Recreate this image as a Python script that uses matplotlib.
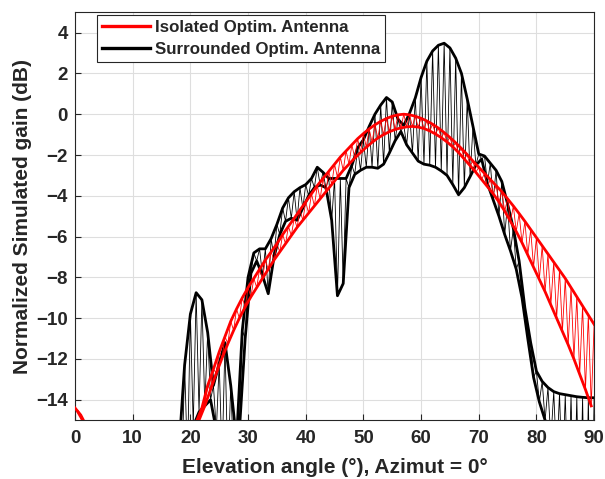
import numpy as np
import matplotlib
matplotlib.use("Agg")
import matplotlib.pyplot as plt
from matplotlib.lines import Line2D

plt.rcParams['font.family'] = ['Liberation Sans', 'DejaVu Sans']
plt.rcParams['font.weight'] = 'bold'

# the simulated pattern alternates between two branches:
# branch A on whole degrees, branch B on half degrees
theta_a = np.arange(0, 91)
theta_b = np.arange(0.5, 90, 1.0)

# isolated antenna (dB)
iso_a = [-14.4, -14.75, -15.3, -16.0, -16.8, -17.6, -18.5, -19.4, -20.2, -20.9,
         -21.4, -21.6, -21.4, -20.9, -20.2, -19.4, -18.6, -17.8, -17.0, -16.3,
         -15.7, -15.1, -14.4, -13.3, -12.5, -11.65, -10.9, -10.15, -9.55, -9.0,
         -8.5, -8.05, -7.6, -7.15, -6.75, -6.35, -5.9, -5.5, -5.1, -4.7,
         -4.3, -3.9, -3.5, -3.15, -2.8, -2.45, -2.1, -1.8, -1.5, -1.2,
         -0.95, -0.72, -0.52, -0.35, -0.21, -0.1, -0.03, 0.0, -0.03, -0.1,
         -0.2, -0.33, -0.49, -0.68, -0.9, -1.14, -1.4, -1.68, -1.98, -2.3,
         -2.6, -2.9, -3.2, -3.5, -3.8, -4.15, -4.5, -4.87, -5.25, -5.65,
         -6.05, -6.45, -6.85, -7.25, -7.65, -8.05, -8.5, -8.95, -9.4, -9.85,
         -10.3]
iso_b = [-14.6, -15.1, -15.8, -16.6, -17.4, -18.3, -19.2, -20.1, -20.9, -21.5,
         -21.8, -21.7, -21.3, -20.7, -20.0, -19.2, -18.4, -17.6, -16.9, -16.3,
         -15.7, -15.0, -14.3, -13.5, -12.7, -11.95, -11.25, -10.6, -10.0, -9.45,
         -8.95, -8.5, -8.05, -7.6, -7.15, -6.75, -6.35, -5.95, -5.55, -5.2,
         -4.85, -4.5, -4.15, -3.8, -3.45, -3.1, -2.75, -2.45, -2.15, -1.88,
         -1.62, -1.38, -1.17, -1.0, -0.86, -0.75, -0.67, -0.62, -0.6, -0.63,
         -0.7, -0.82, -0.97, -1.15, -1.36, -1.6, -1.88, -2.2, -2.52, -2.85,
         -3.2, -3.55, -3.9, -4.3, -4.75, -5.25, -5.75, -6.3, -6.9, -7.5,
         -8.1, -8.7, -9.35, -10.0, -10.65, -11.3, -12.0, -12.75, -13.5, -14.3]

# antenna surrounded by its neighbours (dB)
sur_a = [-26.0, -25.5, -25.0, -24.0, -23.0, -22.5, -22.0, -21.0, -20.0, -19.5,
         -19.5, -20.0, -21.0, -22.0, -22.5, -22.0, -20.5, -19.0, -16.5, -12.3,
         -9.8, -8.75, -9.1, -10.7, -13.3, -12.2, -11.2, -13.3, -16.0, -10.6,
         -8.0, -6.8, -6.6, -6.6, -6.1, -5.4, -4.6, -4.1, -3.8, -3.6,
         -3.45, -3.15, -2.6, -2.85, -3.15, -3.15, -3.15, -3.15, -2.5, -1.65,
         -1.25, -0.6, 0.0, 0.45, 0.82, 0.6, -0.25, -0.55, 0.05, 0.8,
         1.8, 2.6, 3.1, 3.38, 3.48, 3.25, 2.75, 2.0, 0.75, -0.6,
         -1.95, -2.05, -2.4, -2.75, -3.3, -4.4, -5.6, -7.2, -9.5, -11.2,
         -12.6, -13.1, -13.4, -13.6, -13.7, -13.75, -13.8, -13.85, -13.88, -13.9,
         -13.9]
sur_b = [-28.0, -27.5, -27.0, -26.0, -25.0, -24.5, -24.0, -23.0, -22.0, -21.5,
         -21.5, -22.0, -23.0, -24.0, -24.5, -24.0, -22.5, -20.5, -18.0, -17.0,
         -15.3, -14.6, -14.3, -14.0, -15.5, -17.0, -17.5, -17.0, -15.5, -11.0,
         -7.8, -7.2, -7.9, -8.8, -7.0, -5.9, -5.25, -5.1, -5.2, -4.6,
         -4.0, -3.6, -3.47, -3.6, -5.2, -8.9, -8.3, -3.6, -2.95, -2.75,
         -2.6, -2.6, -2.65, -2.45, -1.9, -1.3, -0.85, -1.5, -1.9, -2.3,
         -2.45, -2.5, -2.6, -2.78, -3.0, -3.45, -3.95, -3.6, -3.06, -2.5,
         -2.2, -3.4, -4.2, -5.0, -5.9, -6.7, -7.6, -9.0, -11.0, -12.9,
         -14.1, -15.0, -16.0, -17.0, -18.0, -19.0, -20.0, -21.0, -22.0, -23.0]


def zigzag(ga, gb):
    # merge both branches back into the sampled order
    t = np.empty(len(theta_a) + len(theta_b))
    g = np.empty_like(t)
    t[0::2], t[1::2] = theta_a, theta_b
    g[0::2], g[1::2] = ga, gb
    return t, g


fig = plt.figure(figsize=(6.05, 4.79), dpi=100)
ax = fig.add_axes([0.124, 0.1228, 0.858, 0.8517])

series = [
    (sur_a, sur_b, "black", "Surrounded Optim. Antenna", 2),
    (iso_a, iso_b, "red", "Isolated Optim. Antenna", 3),
]
handles = {}
for ga, gb, col, label, z in series:
    t, g = zigzag(ga, gb)
    ax.plot(t, g, color=col, lw=0.6, zorder=z)
    ax.plot(theta_a, ga, color=col, lw=2.0, zorder=z)
    ax.plot(theta_b, gb, color=col, lw=2.0, zorder=z)
    handles[label] = Line2D([], [], color=col, lw=2.4)

ax.set_xlim(0, 90)
ax.set_ylim(-15, 5)
ax.set_xticks(range(0, 91, 10))
ax.set_yticks(range(-14, 5, 2))
ax.grid(True, color="#dedede", lw=0.8)
ax.set_axisbelow(True)
ax.tick_params(direction="in", length=4, width=0.8, labelsize=13.5,
               colors="#262626")
ax.tick_params(axis="x", pad=7)
ax.tick_params(axis="y", pad=5)
for sp in ax.spines.values():
    sp.set_color("#262626")
    sp.set_linewidth(0.8)

ax.set_xlabel("Elevation angle (°), Azimut = 0°", fontsize=15,
              fontweight="bold", color="#262626", labelpad=8)
ax.set_ylabel("Normalized Simulated gain (dB)", fontsize=15,
              fontweight="bold", color="#262626", labelpad=3)

order = ["Isolated Optim. Antenna", "Surrounded Optim. Antenna"]
leg = ax.legend([handles[k] for k in order], order, loc="upper left",
                bbox_to_anchor=(0.0424, 0.993), borderaxespad=0.0,
                fontsize=12.2, handlelength=2.8, handletextpad=0.3,
                borderpad=0.3, labelspacing=0.42, fancybox=False,
                framealpha=1, edgecolor="#262626")
leg.get_frame().set_linewidth(0.8)
for txt in leg.get_texts():
    txt.set_color("#262626")

fig.savefig("out.png", dpi=100)
